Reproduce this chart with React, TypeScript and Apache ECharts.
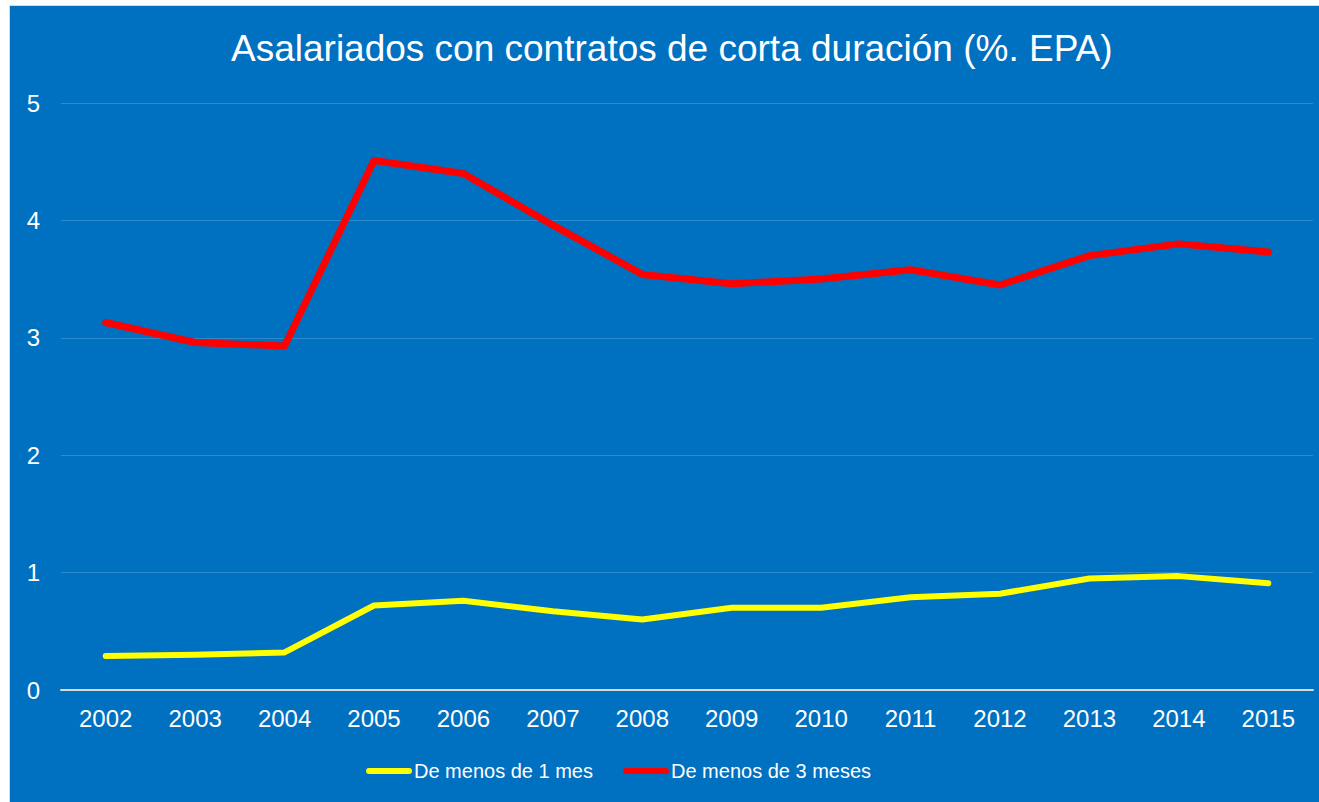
import React, { useEffect, useRef } from "react";
import * as echarts from "echarts";

const years = ["2002","2003","2004","2005","2006","2007","2008","2009","2010","2011","2012","2013","2014","2015"];
const menos1Mes = [0.29, 0.30, 0.32, 0.72, 0.76, 0.67, 0.60, 0.70, 0.70, 0.79, 0.82, 0.95, 0.97, 0.91];
const menos3Meses = [3.13, 2.96, 2.93, 4.51, 4.40, 3.96, 3.54, 3.46, 3.50, 3.58, 3.45, 3.70, 3.80, 3.73];
const titleText = "Asalariados con contratos de corta duración (%. EPA)";
const seriesNames = ["De menos de 1 mes", "De menos de 3 meses"];

export default function App() {
  const ref = useRef<HTMLDivElement>(null);
  useEffect(() => {
    if (!ref.current) return;
    const chart = echarts.init(ref.current, null, { renderer: "svg" });
    const font = "'Liberation Sans', Arial, sans-serif";
    chart.setOption({
      animation: false,
      backgroundColor: "#0070C0",
      title: {
        text: titleText,
        left: 221,
        top: 24,
        padding: 0,
        textStyle: { color: "#ffffff", fontSize: 37, fontWeight: "normal", fontFamily: font },
      },
      legend: {
        left: 356,
        top: 755,
        padding: 0,
        itemWidth: 46,
        itemHeight: 22,
        itemGap: 30,
        icon: "path://M3,8 L43,8 A3,3 0 0 1 43,14 L3,14 A3,3 0 0 1 3,8 Z",
        textStyle: { color: "#ffffff", fontSize: 20, fontFamily: font, padding: [0, 0, 0, -3] },
        data: seriesNames,
      },
      grid: { left: 51, right: 6, top: 97, bottom: 112, containLabel: false },
      xAxis: {
        type: "category",
        data: years,
        boundaryGap: true,
        axisLine: { show: true, lineStyle: { color: "#d9d9d9", width: 2 } },
        axisTick: { show: false },
        axisLabel: { color: "#ffffff", fontSize: 24, fontFamily: font, margin: 16 },
        splitLine: { show: false },
      },
      yAxis: {
        type: "value",
        min: 0,
        max: 5,
        interval: 1,
        axisLine: { show: false },
        axisTick: { show: false },
        axisLabel: { color: "#ffffff", fontSize: 24, fontFamily: font, margin: 21 },
        splitLine: { show: true, lineStyle: { color: "rgba(255,255,255,0.18)", width: 1 } },
      },
      series: [
        {
          name: seriesNames[0],
          type: "line",
          data: menos1Mes,
          showSymbol: false,
          symbol: "none",
          color: "#ffff00",
          lineStyle: { color: "#ffff00", width: 6, cap: "round", join: "round" },
        },
        {
          name: seriesNames[1],
          type: "line",
          data: menos3Meses,
          showSymbol: false,
          symbol: "none",
          color: "#ff0000",
          lineStyle: { color: "#ff0000", width: 7, cap: "round", join: "round" },
        },
      ],
    });
    return () => chart.dispose();
  }, []);
  return (
    <div style={{ position: "absolute", left: 9, top: 5, borderTop: "1px solid #d9d9d9", borderLeft: "1px solid #d9d9d9" }}>
      <div ref={ref} style={{ width: 1309, height: 796 }} />
    </div>
  );
}
